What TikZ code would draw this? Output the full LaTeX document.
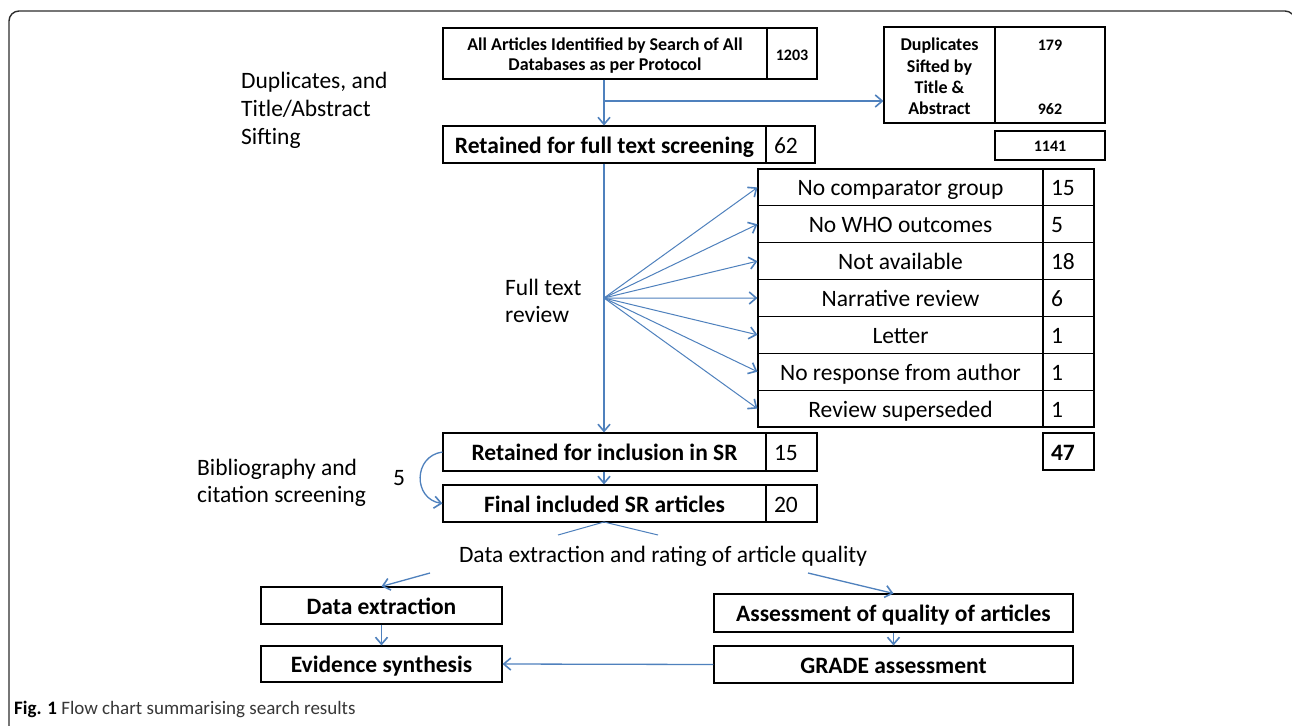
\documentclass[tikz,border=0pt]{standalone}
\usepackage{fontspec}
\setmainfont{Carlito}
\usetikzlibrary{arrows.meta,calc}
\definecolor{ablue}{RGB}{79,129,189}
\definecolor{framec}{RGB}{45,45,45}
\definecolor{capgray}{RGB}{55,55,55}
\begin{document}
\begin{tikzpicture}[x=1pt,y=-1pt,
  cell/.style={draw=black,line width=1.1pt,inner sep=0pt,anchor=center},
  tc/.style={text height=17pt,text depth=0pt},
  numcell/.style={cell,tc,inner xsep=8pt,align=left},
  bigb/.style={font=\fontsize{23.5}{28}\selectfont\bfseries},
  smallb/.style={font=\fontsize{18}{20}\selectfont\bfseries},
  numb/.style={font=\fontsize{16}{18}\selectfont\bfseries},
  reg/.style={font=\fontsize{23.5}{27}\selectfont},
  arr/.style={draw=ablue,line width=1.3pt,-{Straight Barb[length=7pt,width=12pt,line width=1.6pt]}},
  fanarr/.style={draw=ablue,line width=1pt,-{Straight Barb[length=7pt,width=12pt,line width=1.6pt]}},
  plain/.style={draw=ablue,line width=1pt},
  lbl/.style={reg,inner sep=0pt,align=left}]
\useasboundingbox (0,0) rectangle (1292,725);
\fill[white] (0,0) rectangle (1292,725);
% frame
\draw[rounded corners=10pt,line width=1.4pt,draw=framec] (9,760) -- (9,11) -- (1295,11) -- (1295,760);

% top boxes
\node[cell,minimum width=324pt,minimum height=51pt] (all) at (605,53.5) {};
\node[smallb,align=center,inner sep=0pt] (alltxt) at (605,56)
  {All Articles Identified by Search of All\\Databases as per Protocol};
\node[cell,numb,minimum width=50pt,minimum height=51pt,text height=13pt,text depth=0pt] (alln) at (792,53.5) {1203};

\node[cell,minimum width=111pt,minimum height=96pt] (dup) at (939.5,75) {};
\node[align=center,inner sep=0pt,font=\fontsize{18}{21.3}\selectfont\bfseries] (duptxt) at (939.5,76.5)
  {Duplicates\\Sifted by\\Title \&\\Abstract};
\node[cell,minimum width=110pt,minimum height=96pt] (dupn) at (1050,75) {};
\node[numb,inner sep=0pt] (n179) at (1050,45.5) {179};
\node[numb,inner sep=0pt] (n962) at (1050,109.5) {962};
\node[cell,numb,minimum width=110pt,minimum height=29pt,text height=12.5pt,text depth=0pt] (sum) at (1050,145.5) {1141};

\node[cell,tc,bigb,minimum width=323pt,minimum height=37pt] (ret1) at (604.5,144.5) {Retained for full text screening};
\node[numcell,reg,text width=33pt,minimum height=37pt] (ret1n) at (790.5,144.5) {62};

% exclusion table
\coordinate (fan) at (604,298);
\foreach [count=\i] \t/\n in {No comparator group/15,No WHO outcomes/5,Not available/18,Narrative review/6,Letter/1,No response from author/1,Review superseded/1}{
  \pgfmathsetmacro\cy{169+36.857*(\i-0.5)}
  \node[cell,tc,reg,minimum width=285pt,minimum height=36.857pt] (ex\i) at (900.5,\cy) {\t};
  \node[numcell,reg,text width=35pt,minimum height=36.857pt] (exn\i) at (1068.5,\cy) {\n};
  \draw[fanarr] (fan) -- (ex\i.west);
}

% lower boxes
\node[cell,tc,bigb,minimum width=323pt,minimum height=38pt] (ret2) at (604.5,452) {Retained for inclusion in SR};
\node[numcell,reg,text width=35pt,minimum height=38pt] (ret2n) at (791.5,452) {15};
\node[numcell,reg,text width=35pt,minimum height=37pt,font=\fontsize{23.5}{27}\selectfont\bfseries] (n47) at (1068.5,451.5) {47};
\node[cell,tc,bigb,minimum width=323pt,minimum height=37pt] (fin) at (604.5,503.5) {Final included SR articles};
\node[numcell,reg,text width=35pt,minimum height=37pt] (finn) at (791.5,503.5) {20};

\node[cell,tc,bigb,minimum width=241pt,minimum height=37pt] (dx) at (381.5,605.5) {Data extraction};
\node[cell,tc,bigb,minimum width=241pt,minimum height=36pt] (ev) at (381.5,664) {Evidence synthesis};
\node[cell,tc,bigb,minimum width=359pt,minimum height=38pt] (asm) at (893.5,613) {Assessment of quality of articles};
\node[cell,tc,bigb,minimum width=359pt,minimum height=37pt] (grade) at (893.5,664.5) {GRADE assessment};

% labels
\node[lbl,anchor=west,font=\fontsize{23.5}{28}\selectfont] (lab1) at (241,110) {Duplicates, and\\Title/Abstract\\Sifting};
\node[lbl,anchor=west] (lab2) at (505,301) {Full text\\review};
\node[lbl,anchor=west] (lab3) at (197,483) {Bibliography and\\citation screening};
\node[reg,inner sep=0pt] (five) at (399,478) {5};
\node[reg,inner sep=0pt,tc] (dera) at (663,554) {Data extraction and rating of article quality};
\node[anchor=west,inner sep=0pt,font=\fontsize{19}{21}\selectfont,text=capgray] (cap) at (14,709)
  {\textbf{\color{black}Fig. 1} Flow chart summarising search results};

% connectors
\draw[arr] (all.south -| 604,0) -- (604,125.5);
\coordinate (br) at (604,101);
\draw[arr] (br) -- (br -| dup.west);
\draw[arr] (ret1.south -| 604,0) -- (ret2.north -| 604,0);
\draw[arr] (ret2.south -| 604,0) -- (fin.north -| 604,0);
\draw[arr] (ret2.west) .. controls (413,456) and (413,499) .. (fin.west);
\coordinate (fs) at (604,522);
\coordinate (l1) at (558,535);
\coordinate (l2) at (658,535);
\draw[plain] (l1) -- (fs) -- (l2);
\coordinate (a1) at (430,573);
\coordinate (a2) at (808,573);
\draw[arr] (a1) -- (dx.north);
\draw[arr] (a2) -- (asm.north);
\draw[arr] (dx.south) -- (ev.north);
\draw[arr] (asm.south) -- (grade.north);
\draw[arr] (grade.west) -- (ev.east);
\end{tikzpicture}
\end{document}
